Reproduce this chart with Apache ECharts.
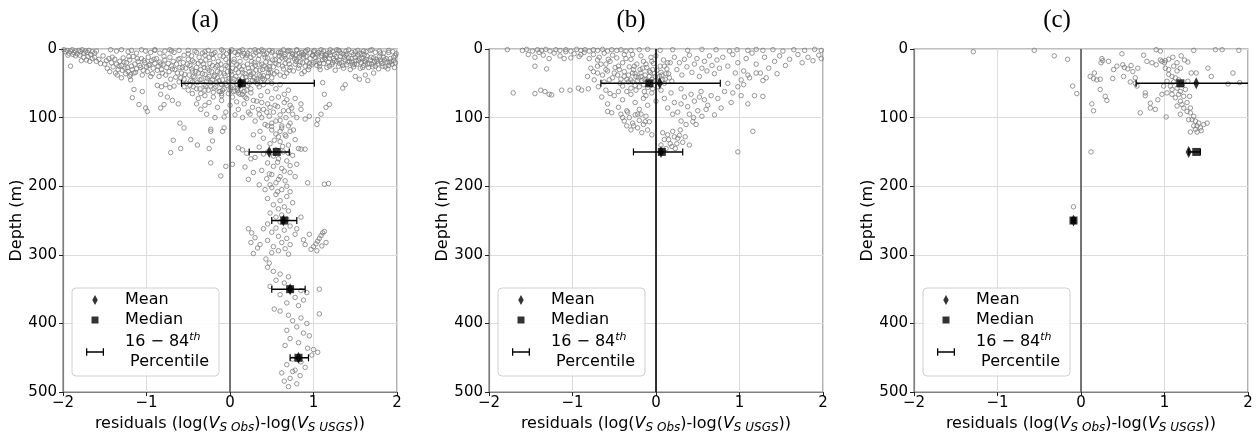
<!DOCTYPE html>
<html>
<head>
<meta charset="utf-8">
<script src="https://cdn.jsdelivr.net/npm/echarts@6/dist/echarts.min.js"></script>
<style>
html,body{margin:0;padding:0;background:#fff;}
#chart{width:1257px;height:439px;}
</style>
</head>
<body>
<div id="chart"></div>
<script>
// ---------- DATA ----------
const panelTitles = ['(a)', '(b)', '(c)'];
const xTicks = [-2, -1, 0, 1, 2];
const xTickLabels = ['\u22122', '\u22121', '0', '1', '2'];
const yTicks = [0, 100, 200, 300, 400, 500];

// Panel (a) residual points [residual, depth]
const scatterA = [
[-1.99,1],[-1.97,4],[-1.95,2],[-1.93,6],[-1.91,3],[-1.89,1],[-1.87,5],[-1.85,3],[-1.83,7],[-1.81,2],[-1.79,4],[-1.77,1],[-1.75,6],[-1.73,3],[-1.71,5],[-1.69,2],[-1.67,8],[-1.65,4],[-1.62,6],[-1.6,3],
[-1.91,25],[-1.78,17],[-1.72,16],[-1.68,18],[-1.62,12],[-1.57,15],[-1.52,10],[-1.48,17],[-1.45,14],
[-1.43,1],[-1.36,3],[-1.3,1],[-1.22,4],[-1.18,2],[-1.12,6],[-1.06,1],[-1.01,3],[-0.95,5],[-0.9,2],[-0.84,6],[-0.78,3],[-0.72,1],[-0.67,5],[-0.61,2],
[-1.42,20],[-1.4,26],[-1.38,15],[-1.36,22],[-1.34,30],[-1.32,18],[-1.3,24],[-1.28,13],[-1.26,28],[-1.24,20],[-1.22,33],[-1.2,16],[-1.18,25],[-1.16,11],[-1.14,22],[-1.12,29],[-1.1,18],[-1.08,24],[-1.06,14],[-1.04,31],[-1.02,20],[-1.0,26],[-0.98,12],[-0.96,22],[-0.94,17],[-0.92,28],[-0.9,21],[-0.88,14],[-0.86,25],[-0.84,19],[-0.82,30],[-0.8,23],[-0.78,16],[-0.76,27],[-0.74,21],[-0.72,12],[-0.7,25],[-0.68,18],[-0.66,30],[-0.64,22],[-0.62,15],[-0.6,27],
[-1.5,22],[-1.47,28],[-1.44,33],[-1.41,12],[-1.37,35],[-1.33,25],[-1.29,31],[-1.27,19],[-1.23,27],[-1.21,11],[-1.19,37],[-1.17,30],[-1.13,34],[-1.11,14],[-1.07,27],[-1.05,38],[-1.03,17],[-0.99,33],[-0.97,24],[-0.93,36],[-0.91,15],[-0.87,31],[-0.85,40],[-0.83,22],[-0.81,35],[-0.79,11],[-0.77,38],[-0.73,33],[-0.71,44],[-0.69,29],[-0.65,41],[-0.63,35],[-0.61,48],[-1.55,21],[-1.6,18],[-1.65,14],[-1.7,11],[-1.75,12],[-1.8,9],[-1.85,10],[-1.88,8],[-1.94,9],
[-1.35,38],[-1.3,42],[-1.25,36],[-1.2,40],[-1.15,35],[-1.19,45],[-1.15,59],[-1.17,71],[-1.09,81],[-1.05,62],[-1.01,86],[-0.99,91],[-0.95,40],[-0.87,53],[-0.82,55],[-0.77,52],[-0.72,56],[-0.67,54],[-0.83,66],[-0.79,81],[-0.83,86],[-0.75,70],[-0.69,75],[-0.62,80],[-0.55,115],[-0.23,117],[-0.07,115],[-0.07,99],
[-0.58,35],[-0.56,20],[-0.55,44],[-0.53,28],[-0.52,50],[-0.5,15],[-0.49,38],[-0.48,24],[-0.47,46],[-0.45,32],[-0.44,55],[-0.43,19],[-0.42,41],[-0.4,27],[-0.39,49],[-0.38,35],[-0.37,12],[-0.36,58],[-0.35,30],[-0.34,44],[-0.32,22],[-0.31,52],[-0.3,37],[-0.29,16],[-0.28,47],[-0.27,28],[-0.26,60],[-0.25,40],[-0.24,21],[-0.23,54],[-0.22,33],[-0.21,45],[-0.2,14],[-0.19,57],[-0.18,38],[-0.17,26],[-0.16,49],[-0.15,42],[-0.14,18],[-0.13,62],[-0.12,35],[-0.11,51],[-0.1,29],[-0.09,45],[-0.08,11],[-0.07,58],[-0.06,39],[-0.05,24],[-0.04,53],[-0.03,33],[-0.02,47],[-0.01,19],[0.01,56],[0.02,37],[0.03,28],[0.04,48],[0.05,15],[0.06,61],[0.07,40],[0.08,23],[0.09,52],[0.1,34],[0.11,45],[0.12,18],[0.13,58],[0.14,30],[0.15,42],[0.16,25],[0.17,50],[0.18,36],[0.19,13],[0.2,46],
[-0.59,42],[-0.57,27],[-0.54,37],[-0.51,22],[-0.48,53],[-0.46,29],[-0.44,40],[-0.41,33],[-0.4,58],[-0.38,21],[-0.36,45],[-0.33,36],[-0.31,27],[-0.29,54],[-0.27,43],[-0.25,31],[-0.23,49],[-0.21,24],[-0.19,40],[-0.17,55],[-0.15,33],[-0.13,46],[-0.11,22],[-0.09,60],[-0.07,36],[-0.05,50],[-0.03,26],[-0.01,43],[0.01,33],[0.03,53],[0.05,44],[0.07,30],[0.09,57],[0.11,26],[0.13,48],[0.15,34],[0.17,62],[0.19,41],[0.21,22],[0.23,50],[0.25,37],[0.27,27],[0.29,42],[0.31,31],[0.33,47],[0.35,23],[0.37,40],[0.39,30],[0.41,45],[0.43,19],[0.45,40],[0.47,26],[0.49,34],[-0.55,55],[-0.5,60],[-0.45,48],[-0.35,65],[-0.3,60],[-0.2,63],[-0.1,52],[0.0,60],[0.1,64],[0.2,60],[-0.6,14],[-0.45,17],[-0.35,18],[-0.25,12],[-0.15,24],[-0.05,15],[0.05,19],[0.15,10],[0.25,12],[0.35,9],[0.45,13],
[-0.5,7],[-0.42,3],[-0.33,6],[-0.26,2],[-0.18,5],[-0.08,3],[0.02,1],[0.06,5],[0.12,3],[0.17,7],[0.24,2],[0.31,5],[0.38,1],[0.44,6],[0.51,3],[0.58,5],[0.64,1],[0.69,4],[0.75,7],[0.8,2],[0.86,5],[0.91,3],[0.96,6],[1.01,2],[1.06,5],[1.12,3],[1.16,7],[1.23,4],[1.28,1],[1.33,6],[1.39,3],[1.46,5],[1.53,2],[1.58,7],[1.63,4],[1.68,2],[1.74,5],[1.79,3],[1.84,6],[1.9,2],[1.95,4],[1.99,7],
[0.0,4],[0.09,8],[0.15,1],[0.21,6],[0.28,9],[0.34,3],[0.41,8],[0.47,2],[0.54,9],[0.61,4],[0.66,8],[0.72,3],[0.78,9],[0.83,6],[0.88,8],[0.93,1],[0.99,9],[1.04,7],[1.09,1],[1.14,9],[1.19,5],[1.25,8],[1.31,3],[1.36,8],[1.42,1],[1.48,8],[1.55,6],[1.61,8],[-0.55,9],[-0.46,10],[-0.4,5],[-0.3,9],[-0.22,8],[-0.12,10],[-0.04,7],
[-0.9,1],[-0.7,3],[-0.5,2],[-0.3,4],[-0.1,1],[0.1,4],[0.3,1],[0.5,5],[0.7,2],[0.9,4],[1.1,6],[1.3,2],[1.5,4],[1.7,1],[1.9,5],[0.4,3],[0.6,6],[0.8,1],[1.0,4],[1.2,1],[1.4,7],[1.6,3],[1.8,6],[-0.2,7],[0.2,9],[0.65,11],[0.85,9],[1.05,9],
[0.22,28],[0.24,40],[0.26,18],[0.28,35],[0.3,24],[0.32,44],[0.34,15],[0.36,31],[0.38,22],[0.4,39],[0.42,12],[0.44,28],[0.46,35],[0.48,20],[0.5,42],[0.52,26],[0.54,16],[0.56,33],[0.58,23],[0.6,38],[0.62,13],[0.64,29],[0.66,21],[0.68,35],[0.7,17],[0.72,27],[0.74,11],[0.76,32],[0.78,22],[0.8,15],[0.82,28],[0.84,19],[0.86,36],[0.88,12],[0.9,25],[0.92,18],[0.94,30],[0.96,14],[0.98,23],[1.0,20],
[0.23,33],[0.29,20],[0.35,38],[0.41,25],[0.47,30],[0.53,36],[0.59,17],[0.65,40],[0.71,31],[0.77,14],[0.83,24],[0.89,33],[0.95,21],[0.27,46],[0.33,51],[0.39,43],[0.45,48],[0.21,53],[0.15,66],[0.09,60],[-0.02,65],[-0.1,68],
[0.51,16],[0.55,21],[0.59,10],[0.63,25],[0.67,14],[0.71,22],[0.75,8],[0.79,18],[0.83,12],[0.87,20],[0.91,11],[0.95,26],[0.99,9],
[1.02,12],[1.04,24],[1.06,17],[1.08,30],[1.1,10],[1.12,21],[1.14,15],[1.16,27],[1.18,19],[1.2,9],[1.22,23],[1.24,14],[1.26,31],[1.28,18],[1.3,25],[1.32,11],[1.34,20],[1.36,28],[1.38,16],[1.4,23],[1.42,13],[1.44,30],[1.46,19],[1.48,26],[1.5,12],[1.52,22],[1.54,17],[1.56,28],[1.58,14],[1.6,24],[1.62,19],[1.64,10],[1.66,27],[1.68,16],[1.7,22],[1.72,13],[1.74,25],[1.76,18],[1.78,29],[1.8,15],[1.82,21],[1.84,12],[1.86,26],[1.88,19],[1.9,24],[1.92,14],[1.94,22],[1.97,27],[1.98,10],
[1.07,21],[1.13,13],[1.19,25],[1.25,17],[1.31,21],[1.37,12],[1.43,18],[1.49,22],[1.55,14],[1.61,17],[1.67,21],[1.73,18],[1.79,11],[1.85,16],[1.91,20],[1.96,17],
[1.03,18],[1.07,26],[1.11,16],[1.15,9],[1.19,14],[1.23,20],[1.27,11],[1.31,16],[1.35,24],[1.39,9],[1.41,19],[1.45,14],[1.47,23],[1.51,17],[1.53,9],[1.57,20],[1.59,27],[1.63,15],[1.65,22],[1.69,12],[1.71,26],[1.75,15],[1.77,22],[1.81,18],[1.83,25],[1.87,14],[1.89,29],[1.93,18],[1.96,12],[1.98,20],
[1.11,49],[1.35,57],[1.38,52],[1.13,66],[1.19,81],[1.15,85],[1.05,103],[1.09,95],[1.55,44],[1.65,46],[1.5,40],[1.72,35],[1.62,38],
[-0.45,65],[-0.38,72],[-0.3,68],[-0.25,78],[-0.2,70],[-0.15,85],[-0.1,75],[-0.05,92],[0.0,82],[0.03,70],[0.06,96],[0.08,77],[0.1,88],[0.12,66],[0.15,100],[0.17,80],[0.2,72],[0.22,92],[0.25,64],[0.27,85],[0.3,105],[0.32,76],[0.35,95],[0.37,68],[0.4,88],[0.42,110],[0.45,80],[0.47,98],[0.5,72],[0.52,92],[0.55,105],[0.57,84],[0.6,96],[0.62,112],[0.65,78],[0.67,100],[0.7,90],[0.72,108],[0.75,95],[0.8,100],[0.85,88],[0.9,102],[0.95,98],[-0.35,88],[-0.28,95],[-0.18,100],[-0.12,62],[0.25,58],[0.35,55],[0.45,62],[0.55,58],[0.65,66],[0.7,60],[0.5,50],[0.6,52],[0.4,52],[0.3,48],[0.78,72],[0.85,80],[0.72,82],
[0.18,70],[0.28,75],[0.38,78],[0.48,85],[0.58,70],[0.68,74],[0.24,95],[0.34,88],[0.44,92],[0.54,82],[0.64,90],[0.74,86],[0.5,108],[0.6,104],[0.38,100],[-0.4,80],[-0.3,82],[-0.1,65],[0.04,62],
[0.45,112],[0.62,115],[0.5,118],[0.72,120],[0.55,124],[0.67,127],[0.4,130],[0.78,132],[0.6,135],[0.48,138],[0.7,140],[0.35,143],[0.82,145],[0.55,147],[0.64,150],[0.4,153],[0.75,155],[0.3,158],[0.58,160],[0.68,163],[0.45,166],[0.8,168],[0.52,171],[0.62,174],[0.38,177],[0.72,180],[0.5,183],[0.6,186],[0.44,189],[0.66,192],[0.55,195],[0.48,198],[0.1,144],[0.15,147],[0.2,152],[0.25,160],[0.18,172],[0.28,180],[0.22,190],[0.85,146],[0.9,146],[0.93,195],[1.13,197],[1.18,196],[1.04,110],[0.36,120],[0.28,125],[0.58,128],[0.7,112],[0.76,118],[0.52,156],[0.72,170],[0.78,186],[0.35,198],[0.42,205],[0.57,208],[0.03,168],[-0.11,185],[-0.05,171],
[0.5,113],[0.6,120],[0.66,125],[0.53,133],[0.63,142],[0.45,150],[0.7,152],[0.57,165],[0.65,178],[0.58,190],[0.47,182],[0.68,200],
[-0.23,120],[-0.09,120],[-0.68,133],[-0.47,132],[-0.39,140],[-0.59,145],[-0.71,151],[-0.25,145],[-0.21,134],[-0.23,166],[-0.6,108],
[0.5,202],[0.62,205],[0.72,208],[0.55,212],[0.68,215],[0.45,218],[0.6,221],[0.75,224],[0.52,227],[0.65,230],[0.58,233],[0.7,236],[0.48,239],[0.62,242],[0.55,245],[0.68,248],[0.6,252],[0.45,255],[0.72,258],[0.55,261],[0.65,264],[0.5,267],[0.78,270],[0.58,273],[0.68,276],[0.45,279],[0.62,282],[0.72,285],[0.52,288],[0.66,291],[0.58,294],[0.5,297],[0.7,299],[0.85,245],[0.8,262],[0.88,278],[0.4,262],[0.22,262],[0.26,268],[0.3,275],[0.25,282],[0.33,290],[0.28,298],[0.36,285],[0.97,292],[1.0,288],[1.03,284],[1.05,280],[1.07,276],[1.09,272],[1.11,268],[1.13,266],[1.15,282],[1.1,287],[1.04,294],[0.95,270],[0.9,285],
[0.43,306],[0.47,312],[0.45,318],[0.52,324],[0.6,328],[0.7,332],[0.55,337],[0.65,341],[0.48,346],[0.72,350],[0.85,352],[0.92,355],[0.6,358],[0.78,362],[0.88,366],[0.68,370],[0.82,374],[0.53,379],[0.6,382],[1.07,350],[1.07,386],[0.7,388],[0.85,392],[0.75,396],[0.92,400],[0.8,405],[0.68,410],[0.88,414],[0.95,418],[0.72,422],[0.82,428],[0.66,432],[0.93,436],[1.0,438],[1.05,442],[0.98,446],[0.75,452],[0.85,456],[0.68,460],[0.9,464],[0.78,468],[0.62,472],[0.84,476],[0.72,480],[0.65,484],[0.8,488],[0.7,492],[0.75,470]
];

// Panel (b) residual points [residual, depth]
const scatterB = [
[-1.78,1],[-1.6,2],[-1.55,0.5],[-1.48,3],[-1.42,1],[-1.37,2],[-1.32,0.5],[-1.27,3],[-1.2,1],[-1.15,2],[-1.08,1],[-1.02,3],[-0.95,0.5],[-0.9,2],[-0.85,1],[-0.8,3],[-0.75,1],[-0.7,2],[-0.64,0.5],[-0.58,3],[-0.53,1],[-0.47,2],[-0.42,1],[-0.36,3],[-0.3,2],[-0.2,1],[-0.1,0.5],[0.05,2],[0.2,1],[0.38,2],[0.55,0.5],[0.72,1],[0.88,3],[0.97,1],[1.1,2],[1.2,0.5],[1.28,2],[1.4,1],[1.52,3],[1.65,1],[1.78,2],[1.9,0.5],[1.98,2],
[-1.53,8],[-1.45,12],[-1.4,5],[-1.35,9],[-1.28,14],[-1.22,6],[-1.15,10],[-1.08,4],[-1.02,13],[-0.98,7],[-0.92,11],[-0.86,5],[-0.8,14],[-0.75,8],[-0.68,12],[-0.62,6],[-0.57,15],[-0.52,9],[-0.47,13],[-1.45,25],[-1.31,29],
[-0.82,40],[-0.78,28],[-0.74,45],[-0.7,35],[-0.66,22],[-0.62,48],[-0.58,32],[-0.55,18],[-0.52,42],[-0.49,27],[-0.46,38],[-0.43,50],[-0.4,20],[-0.38,33],[-0.35,44],[-0.32,26],[-0.3,15],[-0.28,48],[-0.25,36],[-0.23,22],[-0.21,42],[-0.19,30],[-0.17,46],[-0.15,18],[-0.13,38],[-0.11,27],[-0.09,50],[-0.07,34],[-0.05,44],[-0.03,21],[-0.01,40],[0.01,31],[0.03,48],[0.05,25],[0.07,38],[0.09,16],[0.11,44],[0.13,29],[0.15,36],[0.17,20],[0.19,47],[-0.2,55],[-0.1,56],[-0.3,57],[0.02,55],[-0.15,52],[-0.25,53],
[-0.27,30],[-0.24,40],[-0.18,35],[-0.14,44],[-0.08,40],[-0.04,30],[0.0,46],[0.04,40],[-0.33,38],[-0.44,30],[-0.12,22],[-0.06,12],[-0.36,14],[-0.6,22],
[-0.75,33],[-0.7,25],[-0.64,38],[-0.6,30],[-0.56,45],[-0.5,35],[-0.45,25],[-0.42,44],[-0.38,40],[-0.33,48],[-0.28,35],[-0.26,25],[-0.22,46],[-0.18,40],[-0.16,28],[-0.12,45],[-0.08,32],[-0.06,52],[-0.02,36],[0.02,42],[0.06,34],[0.1,50],[0.12,36],[0.16,42],[-0.24,60],[-0.14,62],[-0.04,58],[-0.3,45],[-0.4,54],[0.08,45],[0.14,20],[-0.18,10],[-0.28,8],[-0.38,8],[-0.9,8],[-1.1,14],[-0.7,16],[-0.05,18],[0.0,10],[0.1,25],
[0.22,12],[0.25,30],[0.28,20],[0.31,38],[0.34,15],[0.37,26],[0.4,9],[0.43,34],[0.46,22],[0.49,14],[0.52,40],[0.55,28],[0.58,18],[0.61,32],[0.64,10],[0.67,24],[0.7,36],[0.73,16],[0.76,28],
[0.8,12],[0.86,25],[0.92,8],[0.98,20],[1.05,32],[1.08,14],[1.15,6],[1.2,22],[1.25,35],[1.3,12],[1.35,28],[1.42,18],[1.48,10],[1.55,24],[1.6,15],[1.7,8],[1.75,20],[1.82,12],[1.88,17],[1.95,9],[1.98,14],[0.95,35],[1.1,38],[1.32,42],[1.45,36],
[-1.71,64],[-1.45,65],[-1.38,60],[-1.33,62],[-1.28,66],[-1.25,67],[-1.13,60],[-1.03,60],[-0.93,57],[-0.89,60],[-0.81,58],[-0.69,55],[-0.6,60],[-0.55,65],[-0.45,62],
[-0.65,70],[-0.58,80],[-0.5,68],[-0.45,85],[-0.4,74],[-0.35,90],[-0.3,66],[-0.25,78],[-0.2,88],[-0.15,72],[-0.1,82],[-0.05,64],[0.0,76],[-0.35,62],[-0.12,68],[-0.22,95],
[0.06,60],[0.1,72],[0.14,86],[0.18,64],[0.22,78],[0.26,92],[0.3,58],[0.34,70],[0.38,84],[0.42,66],[0.46,76],[0.5,90],[0.54,62],[0.58,74],[0.62,82],[0.66,68],[0.7,96],[0.74,72],[0.78,86],[0.82,62],[0.45,100],[0.55,98],[0.3,105],[0.36,110],
[0.3,80],[0.4,95],[0.2,95],[0.6,88],[0.52,70],
[0.92,64],[1.02,68],[1.1,80],[1.18,68],[1.28,69],[1.02,45],[1.05,52],[1.12,42],[1.28,46],[1.2,35],[0.98,55],[0.9,78],[0.86,50],
[-0.42,95],[-0.38,105],[-0.35,112],[-0.32,100],[-0.3,118],[-0.28,108],[-0.25,96],[-0.22,115],[-0.2,104],[-0.17,122],[-0.15,110],[-0.12,98],[-0.1,118],[-0.08,106],[-0.05,125],[-0.58,91],[-0.53,93],
[-0.4,100],[-0.34,92],[-0.27,112],[-0.18,95],[-0.13,106],
[0.06,140],[0.1,132],[0.14,125],[0.17,138],[0.2,120],[0.23,145],[0.26,130],[0.29,118],[0.32,136],[0.35,128],[0.12,145],[0.22,128],[0.08,122],[0.4,140],
[0.15,132],[0.19,142],[0.25,138],[0.28,126],
[1.16,120],[0.98,150],[0.48,110],[0.44,106]
];

// Panel (c) residual points [residual, depth]
const scatterC = [
[-1.29,4],[-0.56,2],[-0.32,10],[-0.16,15],[-0.1,54],[-0.05,65],[0.12,150],[-0.09,230],
[0.49,7],[0.75,9],[0.9,1],[0.95,3],[1.35,2],[1.61,1],[1.69,1],[1.89,2],
[0.25,14],[0.26,17],[0.24,20],[0.33,18],[0.39,30],[0.43,25],[0.5,23],[0.52,27],[0.56,29],[0.6,24],[0.62,33],[0.65,42],[0.68,28],[0.79,18],[0.85,20],[0.9,23],[0.95,16],[0.97,18],[1.0,20],[1.01,17],
[0.11,40],[0.15,43],[0.19,45],[0.23,44],[0.16,35],[0.23,59],[0.29,69],[0.31,75],[0.13,80],[0.15,90],[0.38,43],
[0.51,40],[0.59,48],[0.65,50],[0.67,54],[0.77,64],[0.77,68],[0.71,93],[0.83,86],[0.83,79],[0.89,88],[0.92,74],[1.02,99],
[1.01,28],[1.05,30],[1.11,25],[1.15,32],[1.19,28],[1.09,40],[1.13,42],[1.17,45],[1.03,47],[1.07,54],[1.15,57],[1.19,62],[1.03,64],[1.09,66],[1.23,69],[1.13,71],[1.19,76],[1.27,78],[1.15,83],[1.23,86],[1.27,91],[1.19,95],[1.31,93],[1.35,98],[1.29,103],[1.37,105],[1.41,108],[1.35,112],[1.43,115],[1.39,121],[1.31,121],[1.47,110],[1.51,108],
[1.05,37],[1.11,48],[1.21,52],[1.25,59],[1.17,66],[1.21,81],[1.31,86],[1.33,103],[1.39,112],[1.37,117],[1.44,119],[1.09,59],[0.99,54],[0.97,66],
[1.24,16],[1.28,19],[1.32,35],[1.38,35],[1.52,28],[1.76,51],[1.82,35],[1.9,49],[1.56,40],[1.28,47],[1.3,69],[1.1,12],[1.2,10],[1.15,20],[1.05,15]
];

// Binned statistics: depth bins, mean, median, 16th and 84th percentiles
const depthsA = [50, 150, 250, 350, 450];
const meanA   = [0.12, 0.47, 0.64, 0.72, 0.82];
const medianA = [0.14, 0.56, 0.65, 0.72, 0.82];
const p16A    = [-0.58, 0.23, 0.50, 0.50, 0.72];
const p84A    = [1.01, 0.71, 0.80, 0.90, 0.94];

const depthsB = [50, 150];
const meanB   = [0.045, 0.06];
const medianB = [-0.08, 0.07];
const p16B    = [-0.66, -0.27];
const p84B    = [0.77, 0.32];

const depthsC = [50, 150, 250];
const meanC   = [1.38, 1.29, -0.09];
const medianC = [1.19, 1.38, -0.09];
const p16C    = [0.66, 1.29, -0.11];
const p84C    = [2.40, 1.43, -0.07];

// ---------- CHART ----------
const FONT = 'DejaVu Sans';
const panels = [
  {title: panelTitles[0], pts: scatterA, d: depthsA, mean: meanA, med: medianA, lo: p16A, hi: p84A, zeroColor: '#555'},
  {title: panelTitles[1], pts: scatterB, d: depthsB, mean: meanB, med: medianB, lo: p16B, hi: p84B, zeroColor: '#000'},
  {title: panelTitles[2], pts: scatterC, d: depthsC, mean: meanC, med: medianC, lo: p16C, hi: p84C, zeroColor: '#555'}
];
const gridLefts = [63, 489, 914];
const titleCenters = [205, 631, 1057];
const GRID_TOP = 49, GRID_H = 344, GRID_W = 334;

const diamondIcon = 'path://M3,0L6,5.5L3,11L0,5.5Z';
const squareIcon = 'path://M0,0M10,10M1.5,1.5L8.5,1.5L8.5,8.5L1.5,8.5Z';
const ebarIcon = 'path://M0,0L1.2,0L1.2,7L0,7Z M0,2.9L17,2.9L17,4.1L0,4.1Z M15.8,0L17,0L17,7L15.8,7Z';

const option = {
  animation: false,
  backgroundColor: '#fff',
  title: panels.map((p, i) => ({
    text: p.title, left: titleCenters[i], top: 8, padding: 0, textAlign: 'center',
    textStyle: {fontFamily: 'Liberation Serif', fontSize: 25, fontWeight: 'normal', color: '#000'}
  })),
  grid: panels.map((p, i) => ({
    left: gridLefts[i], top: GRID_TOP, width: GRID_W, height: GRID_H,
    show: true, borderColor: '#808080', borderWidth: 1.2, backgroundColor: 'transparent'
  })),
  legend: panels.map((p, i) => ({
    show: true, orient: 'vertical', left: gridLefts[i] + 9, top: 288,
    selectedMode: false,
    itemWidth: 18, itemHeight: 10, itemGap: 4,
    padding: [4, 10, 6, 14],
    backgroundColor: 'rgba(255,255,255,0.85)', borderColor: '#d0d0d0', borderWidth: 1, borderRadius: 4,
    symbolKeepAspect: true,
    data: [
      {name: 'Mean', icon: diamondIcon, itemStyle: {color: '#000'}},
      {name: 'Median', icon: squareIcon, itemStyle: {color: '#000'}},
      {name: 'Percentile', icon: ebarIcon, itemStyle: {color: '#000'}}
    ],
    formatter: function (name) {
      if (name === 'Mean') return '{t|Mean}';
      if (name === 'Median') return '{t|Median}';
      return '{t|16 \u2212 84}{sup|th}\n{t| Percentile}';
    },
    textStyle: {
      fontFamily: FONT, fontSize: 16, color: '#000',
      rich: {
        t: {fontFamily: FONT, fontSize: 16, lineHeight: 20, color: '#000', padding: [0, 0, 0, 16]},
        sup: {fontFamily: FONT, fontSize: 11, fontStyle: 'italic', lineHeight: 12, verticalAlign: 'top', color: '#000'}
      }
    }
  })),
  xAxis: panels.map((p, i) => ({
    type: 'value', gridIndex: i, min: xTicks[0], max: xTicks[xTicks.length - 1], interval: 1,
    axisLine: {show: true, onZero: false, lineStyle: {color: '#808080', width: 1.2}},
    axisTick: {show: true, length: 4, lineStyle: {color: '#222'}},
    axisLabel: {
      margin: 4, fontFamily: FONT, fontSize: 15, color: '#000',
      formatter: v => xTickLabels[xTicks.indexOf(v)]
    },
    splitLine: {show: true, lineStyle: {color: '#dcdcdc', width: 1}},
    name: '{n|residuals (log(}{v|V}{s|S Obs}{n|)-log(}{v|V}{s|S USGS}{n|))}',
    nameLocation: 'middle', nameGap: 18,
    nameTextStyle: {
      fontFamily: FONT, fontSize: 16, color: '#000',
      rich: {
        n: {fontFamily: FONT, fontSize: 16, lineHeight: 20, color: '#000'},
        v: {fontFamily: FONT, fontSize: 16, fontStyle: 'italic', lineHeight: 20, color: '#000'},
        s: {fontFamily: FONT, fontSize: 12, fontStyle: 'italic', lineHeight: 12, verticalAlign: 'bottom', color: '#000'}
      }
    }
  })),
  yAxis: panels.map((p, i) => ({
    type: 'value', gridIndex: i, inverse: true, min: yTicks[0], max: yTicks[yTicks.length - 1], interval: 100,
    axisLine: {show: true, onZero: false, lineStyle: {color: '#808080', width: 1.2}},
    axisTick: {show: true, length: 4, lineStyle: {color: '#222'}},
    axisLabel: {margin: 6, fontFamily: FONT, fontSize: 15, color: '#000'},
    splitLine: {show: true, lineStyle: {color: '#dcdcdc', width: 1}},
    name: 'Depth (m)', nameLocation: 'middle', nameGap: 35,
    nameTextStyle: {fontFamily: FONT, fontSize: 16, color: '#000'}
  })),
  series: []
};

panels.forEach((p, i) => {
  option.series.push({
    name: 'Data', type: 'scatter', xAxisIndex: i, yAxisIndex: i,
    symbol: 'circle', symbolSize: 4.5, silent: true, z: 2,
    itemStyle: {color: 'rgba(255,255,255,0)', borderColor: '#7d7d7d', borderWidth: 1},
    data: p.pts,
    markLine: {
      silent: true, symbol: ['none', 'none'], label: {show: false},
      lineStyle: {color: p.zeroColor, width: 1.6, type: 'solid'},
      data: [{xAxis: 0}]
    }
  });
  option.series.push({
    name: 'Percentile', type: 'custom', xAxisIndex: i, yAxisIndex: i, z: 5,
    data: p.d.map((d, k) => [p.lo[k], p.hi[k], d]),
    encode: {x: [0, 1], y: 2},
    renderItem: function (params, api) {
      const a = api.coord([api.value(0), api.value(2)]);
      const b = api.coord([api.value(1), api.value(2)]);
      const cs = params.coordSys;
      const xmin = cs.x, xmax = cs.x + cs.width;
      const x1 = Math.max(a[0], xmin), x2 = Math.min(b[0], xmax);
      const h = 3.5;
      const ch = [{type: 'line', shape: {x1: x1, y1: a[1], x2: x2, y2: b[1]}, style: {stroke: '#000', lineWidth: 1.5}}];
      if (a[0] >= xmin) ch.push({type: 'line', shape: {x1: a[0], y1: a[1] - h, x2: a[0], y2: a[1] + h}, style: {stroke: '#000', lineWidth: 1.2}});
      if (b[0] <= xmax) ch.push({type: 'line', shape: {x1: b[0], y1: b[1] - h, x2: b[0], y2: b[1] + h}, style: {stroke: '#000', lineWidth: 1.2}});
      return {type: 'group', children: ch};
    }
  });
  option.series.push({
    name: 'Median', type: 'scatter', xAxisIndex: i, yAxisIndex: i, z: 6,
    symbol: 'rect', symbolSize: 8, itemStyle: {color: '#000'},
    data: p.d.map((d, k) => [p.med[k], d])
  });
  option.series.push({
    name: 'Mean', type: 'scatter', xAxisIndex: i, yAxisIndex: i, z: 7,
    symbol: 'diamond', symbolSize: [6, 12], itemStyle: {color: '#000'},
    data: p.d.map((d, k) => [p.mean[k], d])
  });
});

const chart = echarts.init(document.getElementById('chart'), null, {renderer: 'canvas'});
chart.setOption(option);
</script>
</body>
</html>
